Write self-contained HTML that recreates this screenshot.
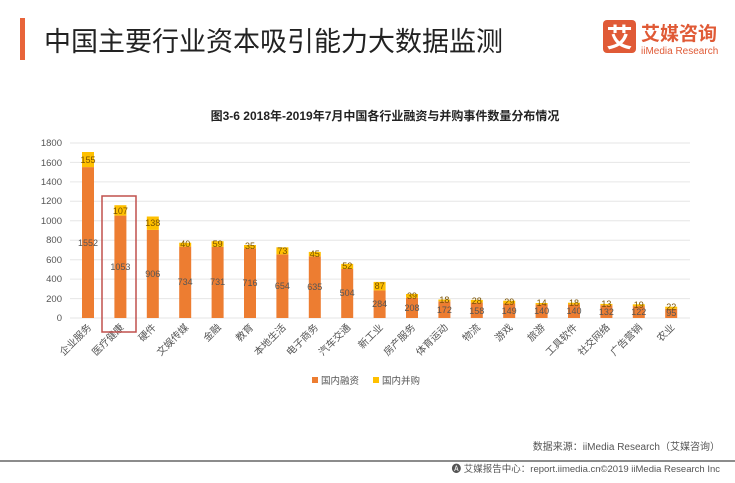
<!DOCTYPE html>
<html><head><meta charset="utf-8"><style>
body{margin:0;background:#fff;font-family:"Liberation Sans","Noto Sans CJK SC",sans-serif;}
</style></head><body>
<svg width="735" height="478" xmlns="http://www.w3.org/2000/svg" font-family="Liberation Sans, Noto Sans CJK SC, sans-serif">
<rect width="735" height="478" fill="#fff"/>
<rect x="20" y="18" width="5" height="42" fill="#e8643a"/>
<text x="44" y="51" font-size="27" fill="#222">中国主要行业资本吸引能力大数据监测</text>
<rect x="603" y="20" width="33" height="33" rx="4" fill="#e05a36"/>
<text x="619.5" y="47" font-size="26" fill="#fff" text-anchor="middle" font-weight="bold">艾</text>
<text x="641" y="40" font-size="19" fill="#e05a36" font-weight="bold">艾媒咨询</text>
<text x="641" y="54" font-size="10" fill="#e05a36">iiMedia Research</text>
<text x="385" y="120" font-size="12" fill="#222" text-anchor="middle" font-weight="bold">图3-6 2018年-2019年7月中国各行业融资与并购事件数量分布情况</text>
<g stroke="#e6e6e6" stroke-width="1">
<line x1="70" x2="690" y1="318" y2="318"/><line x1="70" x2="690" y1="298.6" y2="298.6"/><line x1="70" x2="690" y1="279.1" y2="279.1"/><line x1="70" x2="690" y1="259.7" y2="259.7"/><line x1="70" x2="690" y1="240.2" y2="240.2"/><line x1="70" x2="690" y1="220.8" y2="220.8"/><line x1="70" x2="690" y1="201.3" y2="201.3"/><line x1="70" x2="690" y1="181.9" y2="181.9"/><line x1="70" x2="690" y1="162.4" y2="162.4"/><line x1="70" x2="690" y1="143" y2="143"/>
</g>
<g font-size="9.5" fill="#555" text-anchor="end">
<text x="62" y="321">0</text><text x="62" y="302">200</text><text x="62" y="282">400</text><text x="62" y="263">600</text><text x="62" y="243">800</text><text x="62" y="224">1000</text><text x="62" y="204">1200</text><text x="62" y="185">1400</text><text x="62" y="166">1600</text><text x="62" y="146">1800</text>
</g>
<g fill="#ed7d31">
<rect x="82" y="167.1" width="12" height="150.9"/>
<rect x="114.4" y="215.6" width="12" height="102.4"/>
<rect x="146.8" y="229.9" width="12" height="88.1"/>
<rect x="179.2" y="246.6" width="12" height="71.4"/>
<rect x="211.6" y="246.9" width="12" height="71.1"/>
<rect x="244" y="248.4" width="12" height="69.6"/>
<rect x="276.4" y="254.4" width="12" height="63.6"/>
<rect x="308.8" y="256.3" width="12" height="61.7"/>
<rect x="341.2" y="269" width="12" height="49"/>
<rect x="373.6" y="290.4" width="12" height="27.6"/>
<rect x="406" y="297.8" width="12" height="20.2"/>
<rect x="438.4" y="301.3" width="12" height="16.7"/>
<rect x="470.8" y="302.6" width="12" height="15.4"/>
<rect x="503.2" y="303.5" width="12" height="14.5"/>
<rect x="535.6" y="304.4" width="12" height="13.6"/>
<rect x="568" y="304.4" width="12" height="13.6"/>
<rect x="600.4" y="305.2" width="12" height="12.8"/>
<rect x="632.8" y="306.1" width="12" height="11.9"/>
<rect x="665.2" y="308.8" width="12" height="9.2"/>
</g>
<g fill="#ffc000">
<rect x="82" y="152" width="12" height="15.1"/>
<rect x="114.4" y="205.2" width="12" height="10.4"/>
<rect x="146.8" y="216.5" width="12" height="13.4"/>
<rect x="179.2" y="242.7" width="12" height="3.9"/>
<rect x="211.6" y="241.2" width="12" height="5.7"/>
<rect x="244" y="245" width="12" height="3.4"/>
<rect x="276.4" y="247.3" width="12" height="7.1"/>
<rect x="308.8" y="251.9" width="12" height="4.4"/>
<rect x="341.2" y="263.9" width="12" height="5.1"/>
<rect x="373.6" y="281.9" width="12" height="8.5"/>
<rect x="406" y="294" width="12" height="3.8"/>
<rect x="438.4" y="299.5" width="12" height="1.8"/>
<rect x="470.8" y="299.9" width="12" height="2.7"/>
<rect x="503.2" y="300.7" width="12" height="2.8"/>
<rect x="535.6" y="303" width="12" height="1.4"/>
<rect x="568" y="302.7" width="12" height="1.7"/>
<rect x="600.4" y="303.9" width="12" height="1.3"/>
<rect x="632.8" y="304.3" width="12" height="1.8"/>
<rect x="665.2" y="306.7" width="12" height="2.1"/>
</g>
<g font-size="9" fill="#555" text-anchor="middle">
<text x="88" y="246">1552</text><text x="120.4" y="270">1053</text><text x="152.8" y="277">906</text><text x="185.2" y="285">734</text><text x="217.6" y="285">731</text><text x="250" y="286">716</text><text x="282.4" y="289">654</text><text x="314.8" y="290">635</text><text x="347.2" y="296">504</text><text x="379.6" y="307">284</text><text x="412" y="311">208</text><text x="444.4" y="313">172</text><text x="476.8" y="314">158</text><text x="509.2" y="314">149</text><text x="541.6" y="314">140</text><text x="574" y="314">140</text><text x="606.4" y="315">132</text><text x="638.8" y="315">122</text><text x="671.2" y="316">95</text>
</g>
<g font-size="9" fill="#7a5200" text-anchor="middle">
<text x="88" y="163">155</text><text x="120.4" y="214">107</text><text x="152.8" y="226">138</text><text x="185.2" y="247">40</text><text x="217.6" y="247">59</text><text x="250" y="249">35</text><text x="282.4" y="254">73</text><text x="314.8" y="257">45</text><text x="347.2" y="269">52</text><text x="379.6" y="289">87</text><text x="412" y="299">39</text><text x="444.4" y="303">18</text><text x="476.8" y="304">28</text><text x="509.2" y="305">29</text><text x="541.6" y="306">14</text><text x="574" y="306">18</text><text x="606.4" y="307">13</text><text x="638.8" y="308">19</text><text x="671.2" y="310">22</text>
</g>
<g font-size="10" fill="#555" text-anchor="end">
<text transform="translate(92,328) rotate(-45)">企业服务</text>
<text transform="translate(124.4,328) rotate(-45)">医疗健康</text>
<text transform="translate(156.8,328) rotate(-45)">硬件</text>
<text transform="translate(189.2,328) rotate(-45)">文娱传媒</text>
<text transform="translate(221.6,328) rotate(-45)">金融</text>
<text transform="translate(254,328) rotate(-45)">教育</text>
<text transform="translate(286.4,328) rotate(-45)">本地生活</text>
<text transform="translate(318.8,328) rotate(-45)">电子商务</text>
<text transform="translate(351.2,328) rotate(-45)">汽车交通</text>
<text transform="translate(383.6,328) rotate(-45)">新工业</text>
<text transform="translate(416,328) rotate(-45)">房产服务</text>
<text transform="translate(448.4,328) rotate(-45)">体育运动</text>
<text transform="translate(480.8,328) rotate(-45)">物流</text>
<text transform="translate(513.2,328) rotate(-45)">游戏</text>
<text transform="translate(545.6,328) rotate(-45)">旅游</text>
<text transform="translate(578,328) rotate(-45)">工具软件</text>
<text transform="translate(610.4,328) rotate(-45)">社交网络</text>
<text transform="translate(642.8,328) rotate(-45)">广告营销</text>
<text transform="translate(675.2,328) rotate(-45)">农业</text>
</g>
<rect x="102" y="196" width="34" height="136" fill="none" stroke="#c0504d" stroke-width="1.5"/>
<rect x="312" y="377" width="6" height="6" fill="#ed7d31"/><text x="321" y="384" font-size="9.5" fill="#555">国内融资</text>
<rect x="373" y="377" width="6" height="6" fill="#ffc000"/><text x="382" y="384" font-size="9.5" fill="#555">国内并购</text>
<text x="720" y="450" font-size="10" fill="#555" text-anchor="end">数据来源：iiMedia Research（艾媒咨询）</text>
<line x1="0" x2="735" y1="461" y2="461" stroke="#666" stroke-width="1.5"/>
<text x="720" y="472" font-size="9.5" fill="#555" text-anchor="end">🅐 艾媒报告中心：report.iimedia.cn©2019 iiMedia Research Inc</text>
</svg>
</body></html>
